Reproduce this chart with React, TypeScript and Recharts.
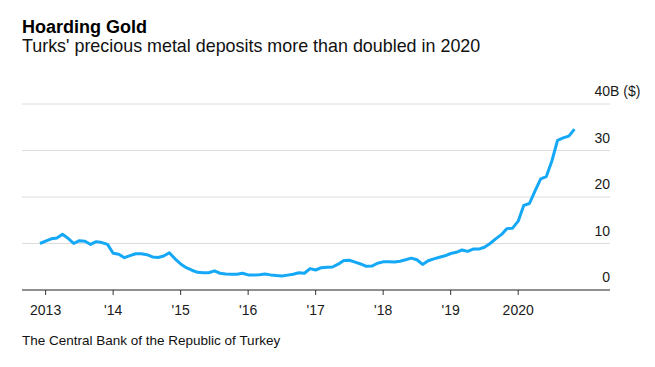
import React from "react";
import { LineChart, Line, XAxis, YAxis, CartesianGrid } from "recharts";

// Monthly precious metal deposits, Dec 2012 .. Nov 2020, billions of dollars
const firstMonth = { year: 2012, month: 12 };
const depositsB = [
  10.0, 10.5, 11.0, 11.2, 12.0, 11.1, 10.0, 10.6, 10.5, 9.8, 10.4, 10.2,
  9.8, 7.9, 7.7, 6.95, 7.4, 7.8, 7.8, 7.6, 7.1, 7.0, 7.3, 8.0,
  6.7, 5.6, 4.8, 4.25, 3.8, 3.7, 3.7, 4.1, 3.6, 3.45, 3.4, 3.4,
  3.6, 3.25, 3.2, 3.3, 3.45, 3.25, 3.1, 3.0, 3.2, 3.4, 3.7, 3.6,
  4.6, 4.3, 4.8, 4.9, 4.95, 5.55, 6.35, 6.4, 6.0, 5.6, 5.1, 5.15,
  5.75, 6.05, 6.1, 6.0, 6.2, 6.5, 6.85, 6.5, 5.5, 6.3, 6.7, 7.05,
  7.35, 7.85, 8.1, 8.6, 8.3, 8.8, 8.8, 9.2, 10.0, 11.0, 11.9, 13.2,
  13.3, 14.8, 18.2, 18.6, 21.3, 23.9, 24.4, 27.8, 32.2, 32.7, 33.1, 34.6,
];

const yearTicks = [2013, 2014, 2015, 2016, 2017, 2018, 2019, 2020];
const yearLabels = ["2013", "'14", "'15", "'16", "'17", "'18", "'19", "2020"];
const valueTicks = [0, 10, 20, 30, 40];

const data = depositsB.map((value, i) => ({
  t: firstMonth.year + (firstMonth.month - 1 + i) / 12,
  value,
}));

const FONT = "'Liberation Sans', Arial, Helvetica, sans-serif";
const BLUE = "#14a8f7";

// value labels sit above the gridline, right-aligned to its end;
// the top one carries the unit, hanging past the edge
function renderValueTick(props: any) {
  const { x, y, payload } = props;
  const isTop = payload.value === valueTicks[valueTicks.length - 1];
  return (
    <g key={`vt-${payload.value}`}>
      <text x={x} y={y - 8} textAnchor="end" fontSize={14} fill="#1a1a1a" fontFamily={FONT}>
        {payload.value}
      </text>
      {isTop && (
        <text x={x} y={y - 8} textAnchor="start" fontSize={14} fill="#1a1a1a" fontFamily={FONT}>
          B ($)
        </text>
      )}
    </g>
  );
}

export default function App() {
  return (
    <div style={{ position: "absolute", left: 0, top: 0, width: 655, height: 367, background: "#fff", fontFamily: FONT }}>
      <div style={{ position: "absolute", left: 22, top: 18, fontSize: 18, lineHeight: "18px", fontWeight: 700, color: "#000", whiteSpace: "nowrap" }}>
        Hoarding Gold
      </div>
      <div style={{ position: "absolute", left: 22, top: 38, fontSize: 17.9, lineHeight: "17.9px", color: "#111", whiteSpace: "nowrap" }}>
        Turks' precious metal deposits more than doubled in 2020
      </div>
      <div style={{ position: "absolute", left: 0, top: 0 }}>
        <LineChart width={655} height={367} data={data} margin={{ top: 104, right: 45, left: 22, bottom: 47 }}>
          <CartesianGrid vertical={false} stroke="#dcdcdc" strokeWidth={1} />
          <XAxis
            dataKey="t"
            type="number"
            domain={[2012.65, 2021.36]}
            ticks={yearTicks}
            tickFormatter={(v: number) => yearLabels[yearTicks.indexOf(v)]}
            height={30}
            tickSize={5}
            tickMargin={10}
            axisLine={{ stroke: "#333", strokeWidth: 1 }}
            tickLine={{ stroke: "#333", strokeWidth: 1 }}
            tick={{ fontSize: 14, fill: "#1a1a1a", fontFamily: FONT }}
            interval={0}
          />
          <YAxis
            orientation="right"
            mirror
            type="number"
            domain={[0, 40]}
            ticks={valueTicks}
            interval={0}
            axisLine={false}
            tickLine={false}
            tickSize={0}
            tickMargin={0}
            tick={renderValueTick}
          />
          <Line
            type="linear"
            dataKey="value"
            stroke={BLUE}
            strokeWidth={3}
            dot={false}
            isAnimationActive={false}
            strokeLinejoin="round"
          />
        </LineChart>
      </div>
      <div style={{ position: "absolute", left: 22, top: 333.5, fontSize: 13.5, lineHeight: "13.5px", color: "#111", whiteSpace: "nowrap" }}>
        The Central Bank of the Republic of Turkey
      </div>
    </div>
  );
}
